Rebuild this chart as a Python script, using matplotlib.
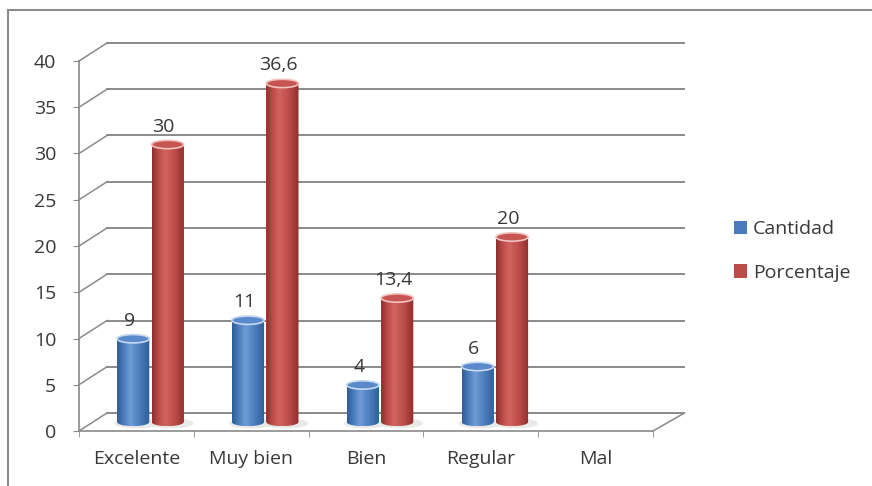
import numpy as np
import matplotlib
matplotlib.use("Agg")
import matplotlib.pyplot as plt
from matplotlib.patches import Ellipse, Rectangle, PathPatch, Patch
from matplotlib.path import Path
from matplotlib.colors import LinearSegmentedColormap

# data
categories = ["Excelente", "Muy bien", "Bien", "Regular", "Mal"]
cantidad = [9, 11, 4, 6, None]
porcentaje = [30, 36.6, 13.4, 20, None]
series_names = ["Cantidad", "Porcentaje"]
yticks = [0, 5, 10, 15, 20, 25, 30, 35, 40]

plt.rcParams['font.family'] = ['Open Sans', 'DejaVu Sans']
TXT = '#383838'
GRID = '#8a8a8a'

W, H = 872, 486
fig = plt.figure(figsize=(W / 100, H / 100), dpi=100)
ax = fig.add_axes([79 / W, (H - 431) / H, (653 - 79) / W, (431 - 61) / H])

# outer chart border (cut off at right/bottom)
fig.patches.append(Rectangle((8 / W, -0.1), 1.0, 1 - 10 / H + 0.1,
                             transform=fig.transFigure, fill=False,
                             edgecolor='#8c8c8c', lw=1.5))

# depth of the 3d box (data units)
DX = 28 / 114.8
DY = 18 / 9.25
BW = 0.28
EH = 0.9

# back wall gridlines + left wall diagonals
for v in yticks:
    ax.plot([-0.5 + DX, 4.5 + DX + 0.03], [v + DY, v + DY], color=GRID,
            lw=1.4, clip_on=False, zorder=1)
    ax.plot([-0.5, -0.5 + DX], [v, v + DY], color=GRID, lw=1.1,
            clip_on=False, zorder=1)
ax.plot([4.5, 4.5 + DX + 0.03], [0, DY], color=GRID, lw=1.1, clip_on=False, zorder=1)

colors = [
    {'dark': '#2f5d96', 'mid': '#4a7cbc', 'light': '#6f9bd6', 'top': '#5a8acb', 'rim': '#c5d8f0'},
    {'dark': '#8e2f2c', 'mid': '#bd4c49', 'light': '#d2635f', 'top': '#c75652', 'rim': '#f0c2be'},
]
offsets = [-0.15, 0.15]

t = np.linspace(0, 1, 64)
prof = np.interp(t, [0, 0.4, 1], [0.0, 1.0, 0.0])


def fmt(v):
    return f"{v:g}".replace('.', ',')


for vals, off, c in zip([cantidad, porcentaje], offsets, colors):
    cmap = LinearSegmentedColormap.from_list('cyl', [c['dark'], c['mid'], c['light']])
    for i, v in enumerate(vals):
        if v is None:
            continue
        cx = i + DX / 2 + off
        y0 = DY / 2
        y1 = y0 + v
        # floor shadow
        ax.add_patch(Ellipse((cx + 0.03, y0 - 0.15), BW * 1.4, EH * 1.2,
                             facecolor='#e8eae8', edgecolor='none', zorder=2, clip_on=False))
        ax.bar(cx, v, width=BW, bottom=y0, color=c['mid'], linewidth=0, zorder=3)
        arc = np.linspace(np.pi, 2 * np.pi, 40)
        verts = [(cx - BW / 2, y1), (cx - BW / 2, y0)]
        verts += list(zip(cx + BW / 2 * np.cos(arc), y0 + EH / 2 * np.sin(arc)))
        verts += [(cx + BW / 2, y1), (cx - BW / 2, y1)]
        clip = PathPatch(Path(verts), transform=ax.transData, facecolor='none', edgecolor='none')
        ax.add_patch(clip)
        im = ax.imshow(prof[None, :], extent=[cx - BW / 2, cx + BW / 2, y0 - EH / 2, y1],
                       aspect='auto', cmap=cmap, zorder=3, interpolation='bilinear')
        im.set_clip_path(clip)
        ax.add_patch(Ellipse((cx, y1), BW, EH, facecolor=c['top'], edgecolor=c['rim'],
                             lw=1.2, zorder=4))
        ax.annotate(fmt(v), (cx, y1), xytext=(-4, 18), textcoords='offset pixels',
                    ha='center', va='center', fontsize=14, color=TXT, zorder=5)

ax.set_xlim(-0.5, 4.5)
ax.set_ylim(0, 40)
ax.set_aspect('auto')

for s in ['top', 'right']:
    ax.spines[s].set_visible(False)
for s in ['left', 'bottom']:
    ax.spines[s].set_color(GRID)
    ax.spines[s].set_linewidth(1.2)

ax.set_yticks(yticks)
ax.set_yticklabels([str(v) for v in yticks])
ax.tick_params(axis='y', direction='out', length=4.5, color=GRID, labelsize=14,
               labelcolor=TXT, pad=12)
ax.set_xticks(range(len(categories)))
ax.set_xticklabels(categories)
ax.set_xticks(np.arange(-0.5, 5, 1), minor=True)
ax.tick_params(axis='x', which='major', length=0, labelsize=14, labelcolor=TXT, pad=14)
ax.tick_params(axis='x', which='minor', direction='out', length=4, color=GRID)

handles = [Patch(facecolor=c['mid'], edgecolor='none') for c in colors]
fig.legend(handles, series_names, loc='center left',
           bbox_to_anchor=(716 / W, 1 - 251 / H), frameon=False,
           handlelength=0.7, handleheight=0.7, handletextpad=0.3,
           labelspacing=1.3, fontsize=14, labelcolor=TXT)

fig.savefig('out.png', dpi=100)
